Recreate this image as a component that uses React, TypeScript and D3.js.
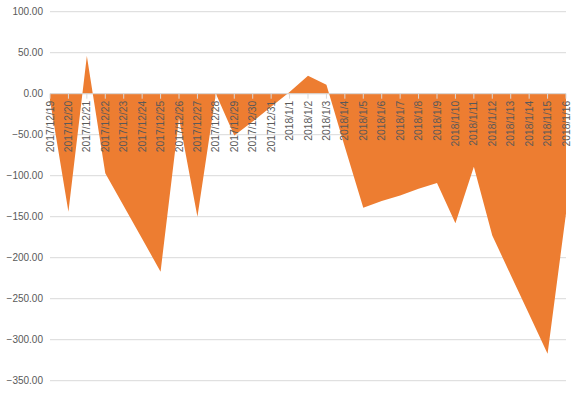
import React from "react";
import * as d3 from "d3";

const categories: string[] = [
  "2017/12/19", "2017/12/20", "2017/12/21", "2017/12/22", "2017/12/23", "2017/12/24",
  "2017/12/25", "2017/12/26", "2017/12/27", "2017/12/28", "2017/12/29", "2017/12/30",
  "2017/12/31", "2018/1/1", "2018/1/2", "2018/1/3", "2018/1/4", "2018/1/5", "2018/1/6",
  "2018/1/7", "2018/1/8", "2018/1/9", "2018/1/10", "2018/1/11", "2018/1/12",
  "2018/1/13", "2018/1/14", "2018/1/15", "2018/1/16",
];

const values: number[] = [
  -8, -144, 46, -97, -137, -177, -217, -30, -150, 0, -51, -34, -16, 2, 22, 11,
  -65, -139, -131, -124, -116, -109, -158, -89, -173, -221, -269, -317, -146,
];

const yTicks: number[] = [100, 50, 0, -50, -100, -150, -200, -250, -300, -350];

const W = 580;
const H = 394;
const left = 50;
const right = 566;
const top = 11.7;
const bottom = 380.7;

export default function App() {
  const x = d3
    .scalePoint<string>()
    .domain(categories)
    .range([left, right]);
  const y = d3.scaleLinear().domain([-350, 100]).range([bottom, top]);

  const area = d3
    .area<number>()
    .x((_, i) => x(categories[i]) as number)
    .y0(() => y(0))
    .y1((d) => y(d));

  const y0 = y(0);

  return (
    <svg
      width={W}
      height={H}
      style={{ position: "absolute", left: 0, top: 0, background: "#fff" }}
      fontFamily="'Liberation Sans', Arial, sans-serif"
    >
      {yTicks.map((t) => (
        <g key={t}>
          <line x1={left} x2={right} y1={y(t)} y2={y(t)} stroke="#D9D9D9" strokeWidth={1} />
          <text
            x={43}
            y={y(t)}
            textAnchor="end"
            dominantBaseline="central"
            fontSize={10}
            fill="#595959"
          >
            {d3.format(".2f")(t)}
          </text>
        </g>
      ))}
      <path d={area(values) as string} fill="#ED7D31" />
      <line x1={left} x2={right} y1={y0} y2={y0} stroke="#D9D9D9" strokeWidth={1} />
      {categories.map((c) => (
        <line
          key={"t" + c}
          x1={x(c)}
          x2={x(c)}
          y1={y0}
          y2={y0 + 5}
          stroke="#D9D9D9"
          strokeWidth={1}
        />
      ))}
      {categories.map((c) => (
        <text
          key={c}
          transform={`translate(${x(c)},${y0 + 7}) rotate(-90)`}
          textAnchor="end"
          dominantBaseline="central"
          fontSize={10.3}
          fill="#595959"
        >
          {c}
        </text>
      ))}
    </svg>
  );
}
